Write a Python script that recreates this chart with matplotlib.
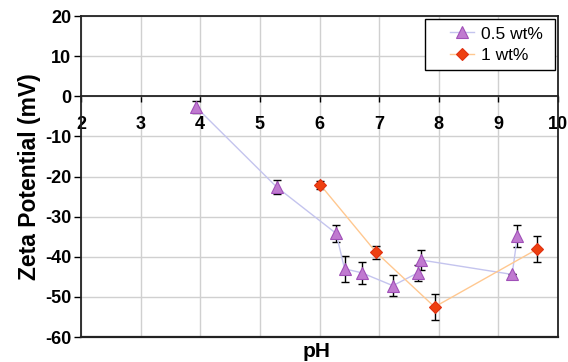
import matplotlib
matplotlib.use("Agg")
import matplotlib.pyplot as plt
from matplotlib.legend_handler import HandlerLine2D

plt.rcParams['font.family'] = ['Liberation Sans', 'DejaVu Sans']
plt.rcParams['axes.unicode_minus'] = False

# 0.5 wt% series
ph_05 = [3.93, 5.28, 6.28, 6.42, 6.71, 7.23, 7.65, 7.70, 9.23, 9.32]
zeta_05 = [-2.7, -22.6, -34.2, -43.0, -44.0, -47.2, -44.0, -40.8, -44.4, -34.8]
err_05 = [1.5, 1.8, 2.2, 3.3, 2.7, 2.7, 2.0, 2.5, 0.0, 2.7]

# 1 wt% series
ph_1 = [6.01, 6.95, 7.93, 9.65]
zeta_1 = [-22.0, -38.9, -52.5, -38.1]
err_1 = [1.0, 1.7, 3.2, 3.2]

x_ticks = [2, 3, 4, 5, 6, 7, 8, 9, 10]
y_ticks = [-60, -50, -40, -30, -20, -10, 0, 10, 20]


class ShiftHandler(HandlerLine2D):
    def create_artists(self, legend, orig_handle, xdescent, ydescent, width,
                       height, fontsize, trans):
        shift = width * 0.42
        return super().create_artists(legend, orig_handle, xdescent - shift,
                                      ydescent, width - shift, height,
                                      fontsize, trans)


fig = plt.figure(figsize=(5.68, 3.62), dpi=100)
ax = fig.add_axes([0.1426, 0.069, 0.8398, 0.8868])

ax.set_xlim(2, 10)
ax.set_ylim(-60, 20)
ax.set_xticks(x_ticks)
ax.set_yticks(y_ticks)
ax.grid(True, color='#d0d0d0', lw=1.0, zorder=0)
ax.set_axisbelow(True)

ax.errorbar(ph_05, zeta_05, yerr=err_05, fmt='none', ecolor='black',
            elinewidth=1.0, capsize=3, capthick=1.0, zorder=3)
ax.errorbar(ph_1, zeta_1, yerr=err_1, fmt='none', ecolor='black',
            elinewidth=1.0, capsize=3, capthick=1.0, zorder=3)

l1, = ax.plot(ph_05, zeta_05, color='#c4c4ee', lw=1.0, marker='^', markersize=8,
              markerfacecolor='#c07ad0', markeredgecolor='#a050b8',
              markeredgewidth=0.8, label='0.5 wt% ', zorder=4)
l2, = ax.plot(ph_1, zeta_1, color='#ffc890', lw=1.0, marker='D', markersize=6,
              markerfacecolor='#ee4010', markeredgecolor='#e03010',
              markeredgewidth=0.8, label='1 wt%', zorder=5)

for s in ['top', 'right', 'left']:
    ax.spines[s].set_linewidth(1.3)
    ax.spines[s].set_color('#222222')
ax.spines['bottom'].set_position(('data', 0))
ax.spines['bottom'].set_linewidth(1.3)
ax.spines['bottom'].set_color('#222222')
ax.axhline(-60, color='#222222', lw=1.6, clip_on=False, zorder=6)

ax.tick_params(axis='x', direction='out', length=4, width=1.0, pad=10,
               labelsize=13)
ax.tick_params(axis='y', direction='out', length=5, width=1.0, pad=2,
               labelsize=13)
for lab in ax.get_xticklabels() + ax.get_yticklabels():
    lab.set_fontweight('bold')

ax.set_ylabel('Zeta Potential (mV)', fontsize=16.5, fontweight='bold', labelpad=3)
fig.text(0.558, 0.003, 'pH', fontsize=15, fontweight='bold', ha='center', va='bottom')

leg = ax.legend(handles=[l1, l2], loc='upper right', fontsize=12.5, frameon=True,
                fancybox=False, edgecolor='black', framealpha=1,
                borderaxespad=0.2, handlelength=2.4, handletextpad=0.4,
                borderpad=0.4, labelspacing=0.35,
                handler_map={l1: ShiftHandler(), l2: ShiftHandler()})
leg.get_frame().set_linewidth(1.0)

fig.savefig('out.png', dpi=100)
